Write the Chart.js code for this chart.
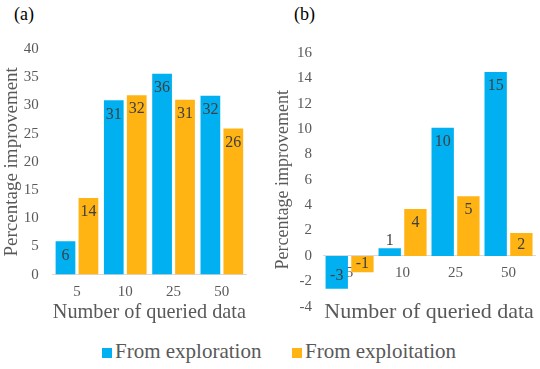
<!DOCTYPE html>
<html>
<head>
<meta charset="utf-8">
<script src="https://cdn.jsdelivr.net/npm/chart.js@4"></script>
<style>
  body { margin: 0; background: #fff; font-family: 'Liberation Serif', serif; }
  #wrap { position: relative; width: 540px; height: 369px; overflow: hidden; }
  .panel { position: absolute; top: 0; }
  .tag { position: absolute; top: 4px; font-size: 18px; color: #000; }
  #legend { position: absolute; top: 339px; left: 0; width: 540px; font-size: 21px; color: #595959; }
  .item { position: absolute; top: 0; white-space: nowrap; }
  .box { display: inline-block; width: 10px; height: 10px; margin-right: 3px; }
</style>
</head>
<body>
<div id="wrap">
  <div class="tag" style="left:14px">(a)</div>
  <div class="tag" style="left:294px">(b)</div>
  <div class="panel" style="left:0; width:262px; height:330px"><canvas id="chartA"></canvas></div>
  <div class="panel" style="left:270px; width:270px; height:330px"><canvas id="chartB"></canvas></div>
  <div id="legend">
    <span class="item" style="left:102px"><span class="box" style="background:#00B0F0"></span>From exploration</span>
    <span class="item" style="left:292px"><span class="box" style="background:#FFB414"></span>From exploitation</span>
  </div>
</div>
<script>
// data
const categories = ['5', '10', '25', '50'];
const explorationA = [5.9, 30.9, 35.6, 31.7];
const exploitationA = [13.6, 31.8, 31.0, 25.9];
const explorationB = [-2.6, 0.6, 10.1, 14.5];
const exploitationB = [-1.3, 3.7, 4.7, 1.8];
const ticksA = [0, 5, 10, 15, 20, 25, 30, 35, 40];
const ticksB = [-4, -2, 0, 2, 4, 6, 8, 10, 12, 14, 16];

const BLUE = '#00B0F0';
const ORANGE = '#FFB414';
const GREY = '#595959';
const SERIF = "'Liberation Serif', serif";

// value labels, Excel style "inside end"
const barLabels = {
  id: 'barLabels',
  afterDatasetsDraw(chart) {
    const ctx = chart.ctx;
    ctx.save();
    ctx.font = '16px ' + SERIF;
    ctx.fillStyle = '#404040';
    ctx.textAlign = 'center';
    ctx.textBaseline = 'middle';
    chart.data.datasets.forEach((ds, i) => {
      chart.getDatasetMeta(i).data.forEach((bar, j) => {
        const v = ds.data[j];
        const h = Math.abs(bar.base - bar.y);
        let y;
        if (h < 12) {
          y = v >= 0 ? bar.y - 7 : bar.y + 7;
        } else if (v >= 0) {
          y = Math.min(bar.y + 14, (bar.y + bar.base) / 2);
        } else {
          y = Math.max(bar.y - 13, (bar.y + bar.base) / 2);
        }
        ctx.fillText(String(Math.round(v)), bar.x, y);
      });
    });
    ctx.restore();
  }
};

const tickFont = { family: SERIF, size: 15 };

new Chart(document.getElementById('chartA'), {
  type: 'bar',
  data: {
    labels: categories,
    datasets: [
      { label: 'From exploration', data: explorationA, backgroundColor: BLUE },
      { label: 'From exploitation', data: exploitationA, backgroundColor: ORANGE }
    ]
  },
  options: {
    responsive: true,
    maintainAspectRatio: false,
    animation: false,
    categoryPercentage: 0.95,
    barPercentage: 0.86,
    layout: { padding: { top: 49, bottom: 5, left: 1, right: 16 } },
    plugins: { legend: { display: false }, tooltip: { enabled: false } },
    scales: {
      x: {
        grid: { display: false, drawTicks: false },
        border: { color: '#d9d9d9', width: 1 },
        ticks: { color: GREY, font: tickFont, padding: 8 },
        title: { display: true, text: 'Number of queried data', color: GREY, font: { family: SERIF, size: 22 }, padding: { top: -10, bottom: 0 } }
      },
      y: {
        min: 0, max: 40,
        afterBuildTicks: s => { s.ticks = ticksA.map(v => ({ value: v })); },
        grid: { display: false, drawTicks: false },
        border: { display: false },
        ticks: { color: GREY, font: tickFont, padding: 14 },
        title: { display: true, text: 'Percentage improvement', color: GREY, font: { family: SERIF, size: 19 }, padding: { top: 0, bottom: -14 } }
      }
    }
  },
  plugins: [barLabels]
});

new Chart(document.getElementById('chartB'), {
  type: 'bar',
  data: {
    labels: categories,
    datasets: [
      { label: 'From exploration', data: explorationB, backgroundColor: BLUE },
      { label: 'From exploitation', data: exploitationB, backgroundColor: ORANGE }
    ]
  },
  options: {
    responsive: true,
    maintainAspectRatio: false,
    animation: false,
    categoryPercentage: 0.97,
    barPercentage: 0.87,
    layout: { padding: { top: 53, bottom: 5, left: 0, right: 5 } },
    plugins: { legend: { display: false }, tooltip: { enabled: false } },
    scales: {
      x: {
        position: { y: 0 },
        grid: { display: false, drawTicks: false },
        border: { color: '#d9d9d9', width: 1 },
        ticks: { color: GREY, font: tickFont, padding: 8 }
      },
      x2: {
        type: 'category',
        position: 'bottom',
        grid: { display: false, drawTicks: false },
        border: { display: false },
        ticks: { display: false },
        title: { display: true, text: 'Number of queried data', color: GREY, font: { family: SERIF, size: 22 }, padding: { top: -8, bottom: 0 } }
      },
      y: {
        min: -4, max: 16,
        afterBuildTicks: s => { s.ticks = ticksB.map(v => ({ value: v })); },
        grid: { display: false, drawTicks: false },
        border: { display: false },
        ticks: { color: GREY, font: tickFont, padding: 11 },
        title: { display: true, text: 'Percentage improvement', color: GREY, font: { family: SERIF, size: 18 }, padding: { top: 2, bottom: -7.5 } }
      }
    }
  },
  plugins: [barLabels]
});
</script>
</body>
</html>
